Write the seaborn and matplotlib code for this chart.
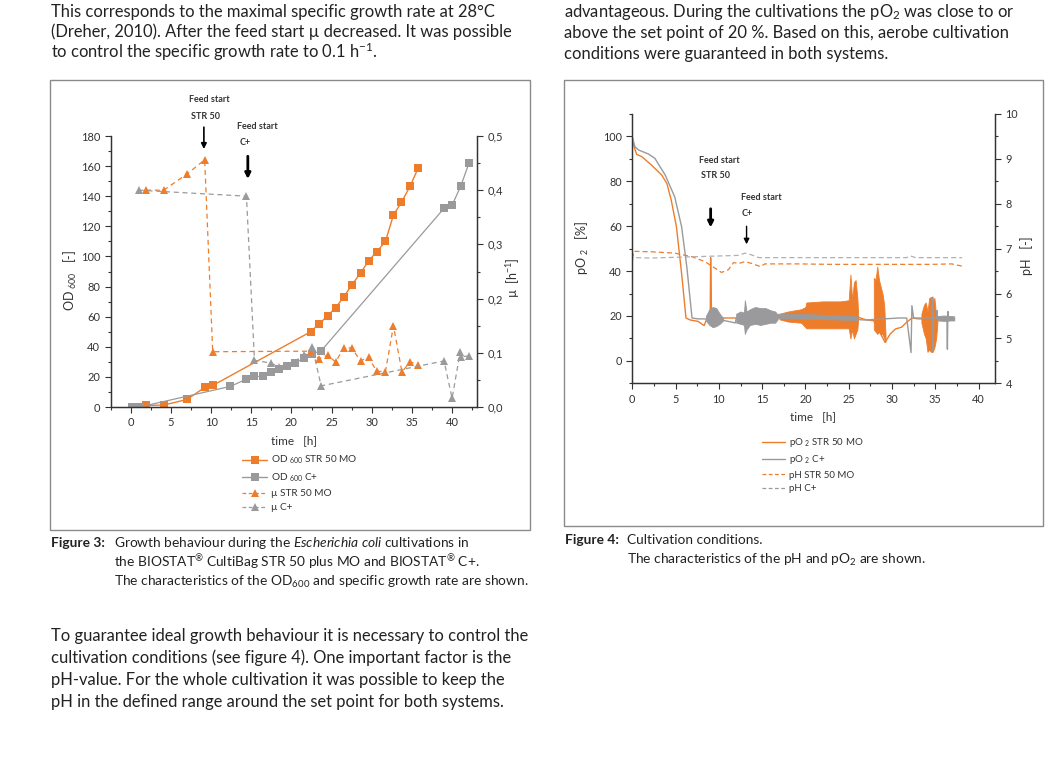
import matplotlib
matplotlib.use("Agg")
import matplotlib.pyplot as plt
import seaborn as sns
from matplotlib.lines import Line2D
from matplotlib.patches import Rectangle
from matplotlib.ticker import MultipleLocator, FuncFormatter

# Daten Figure 3 (OD600 und mu)
od_str_t = [1.9, 4.1, 7.0, 9.2, 10.2, 22.4, 23.4, 24.5, 25.5, 26.5, 27.5, 28.6, 29.6, 30.6, 31.7, 32.7, 33.7, 34.8, 35.8]
od_str = [1, 1.3, 5, 13, 14.3, 50, 55, 60.5, 66, 73, 81, 89, 97, 103, 110, 127.5, 136, 147, 159]

od_cp_t = [0.2, 1.1, 12.4, 14.4, 15.4, 16.4, 17.5, 18.5, 19.5, 20.5, 21.6, 22.6, 23.7, 39.0, 40.0, 41.1, 42.1]
od_cp = [0, 0, 13.7, 18.5, 20.3, 20.4, 23.2, 25.2, 27, 29.2, 32.8, 35.5, 37.3, 132, 134, 147, 162]

mu_str_t = [1.9, 4.1, 7.0, 9.2, 10.2, 22.4, 23.45, 24.5, 25.5, 26.5, 27.5, 28.6, 29.6, 30.6, 31.7, 32.7, 33.75, 34.8, 35.8]
mu_str = [0.40, 0.40, 0.43, 0.456, 0.102, 0.103, 0.089, 0.096, 0.083, 0.109, 0.109, 0.085, 0.092, 0.066, 0.065, 0.150, 0.065, 0.083, 0.078]

mu_cp_t = [1.0, 14.4, 15.4, 17.5, 18.5, 19.5, 21.6, 22.6, 23.7, 39.0, 40.0, 41.0, 41.05, 42.1]
mu_cp = [0.40, 0.389, 0.086, 0.081, 0.073, 0.076, 0.096, 0.11, 0.039, 0.085, 0.016, 0.101, 0.093, 0.094]

# Daten Figure 4 (pO2 und pH)
po2_str_t = [0, 0.2, 0.5, 1.1, 2.2, 3.4, 4.0, 4.5, 5.1, 5.7, 6.2, 6.7, 7.6, 8.3, 8.6, 9.0, 9.05, 9.15, 9.6,
             10.3, 11.9, 16.5, 20.0, 26.1, 27.1, 27.9, 29.2, 29.8, 30.4, 31.1, 31.7, 32.3, 33.1, 35.2]
po2_str = [99.7, 95.5, 92, 91, 87.3, 82.8, 79, 71.6, 59.7, 38.8, 19.1, 18.2, 17.6, 15.7, 18.7, 19.1, 46, 21, 20,
           19.1, 19.1, 19.4, 20, 19.4, 18.2, 17.9, 8.2, 12, 14.2, 15, 17.2, 19.1, 18.7, 18.7]

# Huellkurven der Regelschwingungen STR 50 MO
band1_t = [17.0, 18.0, 19.5, 20.0, 20.1, 22.0, 24.0, 25.0, 25.2, 25.4, 25.6, 25.8, 26.0, 26.1]
band1_lo = [18.5, 17.5, 17, 15, 14.5, 14.5, 14.5, 14.5, 10, 14, 10, 12, 14, 19]
band1_hi = [21, 22, 23, 24, 26, 26.5, 26.5, 27, 38.5, 27, 35, 36, 28, 20]
band2_t = [27.9, 28.1, 28.3, 28.5, 28.7, 28.9, 29.1, 29.25]
band2_lo = [14, 13, 12, 13, 12, 12, 10, 8.5]
band2_hi = [37, 36, 42, 36, 33, 30, 25, 12]
band3_t = [33.4, 33.7, 33.9, 34.1, 34.3, 34.5, 34.7, 34.9, 35.1, 35.25]
band3_lo = [17, 12, 10, 4, 5, 4, 4, 6, 10, 17]
band3_hi = [21, 25, 26, 22, 28, 28.5, 27, 28, 20, 20]

po2_cp_t = [0, 0.3, 0.7, 1.85, 2.6, 3.8, 4.9, 5.7, 6.3, 6.9, 7.6, 8.4, 10.7, 11.9, 12.0, 16.8, 23.0, 26.9,
            30.8, 31.7, 32.2, 32.3, 32.5, 34.6, 34.7, 34.75, 34.8, 35.15, 35.2, 35.25, 36.35, 36.4, 36.45,
            36.5, 37.2]
po2_cp = [99.7, 95.5, 94, 92.2, 90.3, 82.8, 73.1, 59.7, 41.8, 19.1, 18.7, 18.7, 17.9, 16.9, 19, 20.1, 19.1, 18.2,
          19.1, 19.1, 3.7, 24.6, 19.1, 19.1, 28.4, 4.5, 19.1, 19.1, 22.4, 19, 19, 5.2, 22, 18.8, 18.7]

# Huellkurven der Regelschwingungen C+
gband1_t = [8.5, 8.9, 9.3, 9.7, 10.1, 10.5]
gband1_lo = [18, 16, 15, 15.5, 16.5, 18]
gband1_hi = [20, 23, 24, 23.5, 21, 19]
gband2_t = [12.0, 12.5, 12.9, 13.0, 13.2, 13.6, 14.2, 14.8, 15.4, 16.0, 16.5, 16.8]
gband2_lo = [17, 16.5, 16, 12, 14, 16, 16.5, 16, 16.5, 17, 17, 18.5]
gband2_hi = [21, 22, 21.5, 27, 22, 23, 24, 23.5, 23.5, 22.5, 22, 20.5]
gband3_t = [16.8, 20, 23, 26]
gband3_lo = [19.2, 18.8, 18.5, 18.2]
gband3_hi = [21, 20.8, 20.4, 19.8]
gband4_t = [35.3, 36.0, 36.8, 37.2]
gband4_lo = [18, 17.8, 18, 18]
gband4_hi = [20, 20.2, 20, 19.8]

ph_str_t = [0, 0.1, 0.3, 2.2, 4.9, 6.9, 8.4, 9.6, 10.3, 11.1, 11.7, 12.3, 13.0, 13.8, 14.8, 15.3, 16.9,
            19.2, 23.0, 26.9, 30.8, 34.6, 36.9, 38.1]
ph_str = [6.94, 6.85, 6.94, 6.93, 6.9, 6.82, 6.71, 6.56, 6.47, 6.53, 6.69, 6.67, 6.71, 6.67, 6.6, 6.66, 6.66,
          6.66, 6.65, 6.65, 6.65, 6.65, 6.66, 6.61]
ph_cp_t = [0, 0.15, 0.4, 2.0, 12.3, 13.0, 13.8, 14.6, 31.7, 32.1, 32.7, 38.1]
ph_cp = [6.72, 6.83, 6.8, 6.79, 6.85, 6.9, 6.86, 6.8, 6.8, 6.84, 6.8, 6.8]

ORANGE = "#ee7d2b"
GREY = "#9a9a9c"
TXT = "#333333"

sns.set_style("ticks")
plt.rcParams["font.family"] = ["Lato", "DejaVu Sans"]
plt.rcParams["mathtext.fontset"] = "custom"
plt.rcParams["mathtext.rm"] = "Lato"
plt.rcParams["mathtext.it"] = "Lato:italic"
plt.rcParams["mathtext.bf"] = "Lato:bold"
plt.rcParams["mathtext.default"] = "rm"
plt.rcParams["text.color"] = TXT
plt.rcParams["axes.edgecolor"] = TXT
plt.rcParams["xtick.color"] = TXT
plt.rcParams["ytick.color"] = TXT

W, H = 1060, 760
fig = plt.figure(figsize=(10.6, 7.6), dpi=100)


def fx(px):
    return px / W


def fy(py):
    return 1 - py / H


def style_axes(ax, fs=8):
    ax.tick_params(which="both", direction="out", labelsize=fs, width=0.8, colors=TXT)
    ax.tick_params(which="major", length=4)
    ax.tick_params(which="minor", length=2.5)
    for s in ax.spines.values():
        s.set_linewidth(0.9)
        s.set_color(TXT)


comma = FuncFormatter(lambda v, p: f"{v:.1f}".replace(".", ","))

# ---- Fliesstext ----
par_kw = dict(fontsize=11.9, va="center", ha="left", color="#222222")
fig.text(fx(51), fy(12), "This corresponds to the maximal specific growth rate at 28°C", **par_kw)
fig.text(fx(51), fy(32), "(Dreher, 2010). After the feed start µ decreased. It was possible", **par_kw)
fig.text(fx(51), fy(52), "to control the specific growth rate to 0.1 h$^{-1}$.", **par_kw)
fig.text(fx(564), fy(12), "advantageous. During the cultivations the pO$_2$ was close to or", **par_kw)
fig.text(fx(564), fy(33), "above the set point of 20 %. Based on this, aerobe cultivation", **par_kw)
fig.text(fx(564), fy(54), "conditions were guaranteed in both systems.", **par_kw)
fig.text(fx(51), fy(636), "To guarantee ideal growth behaviour it is necessary to control the", **par_kw)
fig.text(fx(51), fy(658), "cultivation conditions (see figure 4). One important factor is the", **par_kw)
fig.text(fx(51), fy(680), "pH-value. For the whole cultivation it was possible to keep the", **par_kw)
fig.text(fx(51), fy(702), "pH in the defined range around the set point for both systems.", **par_kw)

# Rahmen
for (x0, y0, x1, y1) in [(50, 80, 530, 530), (564, 80, 1043, 526)]:
    fig.patches.append(Rectangle((fx(x0), fy(y1)), fx(x1 - x0), (y1 - y0) / H,
                                 transform=fig.transFigure, fill=False,
                                 edgecolor="#8a8a8a", linewidth=1))

# Bildunterschriften
cap_kw = dict(fontsize=9.9, va="center", ha="left", color="#222222")
fig.text(fx(51), fy(543), "Figure 3:", fontweight="bold", **cap_kw)
fig.text(fx(114), fy(543), r"Growth behaviour during the $\it{Escherichia\ coli}$ cultivations in", **cap_kw)
fig.text(fx(114), fy(562), "the BIOSTAT$^{®}$ CultiBag STR 50 plus MO and BIOSTAT$^{®}$ C+.", **cap_kw)
fig.text(fx(114), fy(582), "The characteristics of the OD$_{600}$ and specific growth rate are shown.", **cap_kw)
fig.text(fx(565), fy(540), "Figure 4:", fontweight="bold", **cap_kw)
fig.text(fx(627), fy(540), "Cultivation conditions.", **cap_kw)
fig.text(fx(627), fy(560), "The characteristics of the pH and pO$_2$ are shown.", **cap_kw)

# ---- Figure 3 ----
ax1 = fig.add_axes([fx(110.7), fy(407), fx(477 - 110.7), (407 - 136) / H])
ax1b = ax1.twinx()

sns.lineplot(x=od_str_t, y=od_str, ax=ax1, color=ORANGE, lw=1, marker="s", markersize=6,
             markeredgewidth=0, sort=False, estimator=None)
sns.lineplot(x=od_cp_t, y=od_cp, ax=ax1, color=GREY, lw=0.9, marker="s", markersize=6,
             markeredgewidth=0, sort=False, estimator=None)
sns.lineplot(x=mu_str_t, y=mu_str, ax=ax1b, color=ORANGE, lw=0.9, marker="^", markersize=6,
             markeredgewidth=0, linestyle=(0, (4, 3)), sort=False, estimator=None)
sns.lineplot(x=mu_cp_t, y=mu_cp, ax=ax1b, color=GREY, lw=0.9, marker="^", markersize=6,
             markeredgewidth=0, linestyle=(0, (4, 3)), sort=False, estimator=None)

ax1.set_xlim(-2.5, 43.1)
ax1.set_ylim(0, 180)
ax1b.set_ylim(0, 0.5)
ax1.xaxis.set_major_locator(MultipleLocator(5))
ax1.xaxis.set_minor_locator(MultipleLocator(2.5))
ax1.yaxis.set_major_locator(MultipleLocator(20))
ax1.yaxis.set_minor_locator(MultipleLocator(10))
ax1b.yaxis.set_major_locator(MultipleLocator(0.1))
ax1b.yaxis.set_minor_locator(MultipleLocator(0.05))
ax1b.yaxis.set_major_formatter(comma)
for a in (ax1, ax1b):
    a.spines["top"].set_visible(False)
    a.set_xlabel("")
    a.set_ylabel("")
    style_axes(a)

fig.text(fx(294), fy(441), "time   [h]", fontsize=8.5, ha="center", va="center")
fig.text(fx(70), fy(280), "OD $_{600}$   [-]", fontsize=9, rotation=90, ha="center", va="center")
fig.text(fx(513), fy(278), "µ  [h$^{-1}$]", fontsize=9, rotation=90, ha="center", va="center")

ann_kw = dict(fontsize=6.5, fontweight="bold", ha="center", va="center", annotation_clip=False)
ax1.annotate("Feed start", (9.75, 204), **ann_kw)
ax1.annotate("STR 50", (9.34, 193), **ann_kw)
ax1.annotate("Feed start", (15.8, 186), **ann_kw)
ax1.annotate("C+", (14.3, 175.5), **ann_kw)
ax1.annotate("", xy=(9.1, 169.5), xytext=(9.1, 187.7), annotation_clip=False,
             arrowprops=dict(arrowstyle="-|>", color="k", lw=1.2, mutation_scale=8))
ax1.annotate("", xy=(14.57, 149.6), xytext=(14.57, 168.4), annotation_clip=False,
             arrowprops=dict(arrowstyle="-|>", color="k", lw=2, mutation_scale=8))

leg1 = [
    Line2D([], [], color=ORANGE, lw=1, marker="s", markersize=6, markeredgewidth=0),
    Line2D([], [], color=GREY, lw=1, marker="s", markersize=6, markeredgewidth=0),
    Line2D([], [], color=ORANGE, lw=0.9, ls=(0, (3, 2)), marker="^", markersize=6, markeredgewidth=0),
    Line2D([], [], color=GREY, lw=0.9, ls=(0, (3, 2)), marker="^", markersize=6, markeredgewidth=0),
]
fig.legend(leg1, ["OD $_{600}$ STR 50 MO", "OD $_{600}$ C+", "µ STR 50 MO", "µ C+"],
           loc="upper left", bbox_to_anchor=(fx(242), fy(454)), frameon=False, fontsize=7.2,
           handlelength=2.5, handletextpad=0.4, labelspacing=0.5, borderpad=0, borderaxespad=0)

# ---- Figure 4 ----
ax2 = fig.add_axes([fx(632.3), fy(383.3), fx(995 - 632.3), (383.3 - 114) / H])
ax2b = ax2.twinx()

for bt, blo, bhi in [(band1_t, band1_lo, band1_hi), (band2_t, band2_lo, band2_hi),
                     (band3_t, band3_lo, band3_hi)]:
    ax2.fill_between(bt, blo, bhi, color=ORANGE, lw=0.6, zorder=2)
sns.lineplot(x=po2_str_t, y=po2_str, ax=ax2, color=ORANGE, lw=1, sort=False, estimator=None, zorder=2)
for bt, blo, bhi in [(gband1_t, gband1_lo, gband1_hi), (gband2_t, gband2_lo, gband2_hi),
                     (gband3_t, gband3_lo, gband3_hi), (gband4_t, gband4_lo, gband4_hi)]:
    ax2.fill_between(bt, blo, bhi, color=GREY, lw=0.6, zorder=3)
sns.lineplot(x=po2_cp_t, y=po2_cp, ax=ax2, color=GREY, lw=1, sort=False, estimator=None, zorder=3)

sns.lineplot(x=ph_str_t, y=ph_str, ax=ax2b, color=ORANGE, lw=0.9, linestyle=(0, (4, 2.5)),
             sort=False, estimator=None)
sns.lineplot(x=ph_cp_t, y=ph_cp, ax=ax2b, color="#b0b0b2", lw=0.9, linestyle=(0, (4, 2.5)),
             sort=False, estimator=None)

ax2.set_xlim(0, 41.9)
ax2.set_ylim(-10, 110)
ax2b.set_ylim(4, 10)
ax2.xaxis.set_major_locator(MultipleLocator(5))
ax2.xaxis.set_minor_locator(MultipleLocator(2.5))
ax2.yaxis.set_major_locator(MultipleLocator(20))
ax2.yaxis.set_minor_locator(MultipleLocator(10))
ax2b.yaxis.set_major_locator(MultipleLocator(1))
ax2b.yaxis.set_minor_locator(MultipleLocator(0.5))
for a in (ax2, ax2b):
    a.spines["top"].set_visible(False)
    a.set_xlabel("")
    a.set_ylabel("")
    style_axes(a, fs=7.8)

fig.text(fx(813), fy(417), "time   [h]", fontsize=8.5, ha="center", va="center")
fig.text(fx(582), fy(248), "pO $_2$   [%]", fontsize=9, rotation=90, ha="center", va="center")
fig.text(fx(1027), fy(256), "pH   [-]", fontsize=9, rotation=90, ha="center", va="center")

ax2.annotate("Feed start", (10.0, 89.2), **ann_kw)
ax2.annotate("STR 50", (9.6, 82.5), **ann_kw)
ax2.annotate("Feed start", (14.85, 72.7), **ann_kw)
ax2.annotate("C+", (13.3, 65.5), **ann_kw)
ax2.annotate("", xy=(9.05, 58.2), xytext=(9.05, 69), annotation_clip=False,
             arrowprops=dict(arrowstyle="-|>", color="k", lw=2, mutation_scale=8))
ax2.annotate("", xy=(13.2, 50.7), xytext=(13.2, 61.2), annotation_clip=False,
             arrowprops=dict(arrowstyle="-|>", color="k", lw=1, mutation_scale=8))

leg2 = [
    Line2D([], [], color=ORANGE, lw=1),
    Line2D([], [], color=GREY, lw=1),
    Line2D([], [], color=ORANGE, lw=0.9, ls=(0, (3, 2))),
    Line2D([], [], color=GREY, lw=0.9, ls=(0, (3, 2))),
]
fig.legend(leg2, ["pO $_2$ STR 50 MO", "pO $_2$ C+", "pH STR 50 MO", "pH C+"],
           loc="upper left", bbox_to_anchor=(fx(762), fy(436)), frameon=False, fontsize=7.0,
           handlelength=2.4, handletextpad=0.4, labelspacing=0.45, borderpad=0, borderaxespad=0)

fig.savefig("out.png", dpi=100, facecolor="white")
